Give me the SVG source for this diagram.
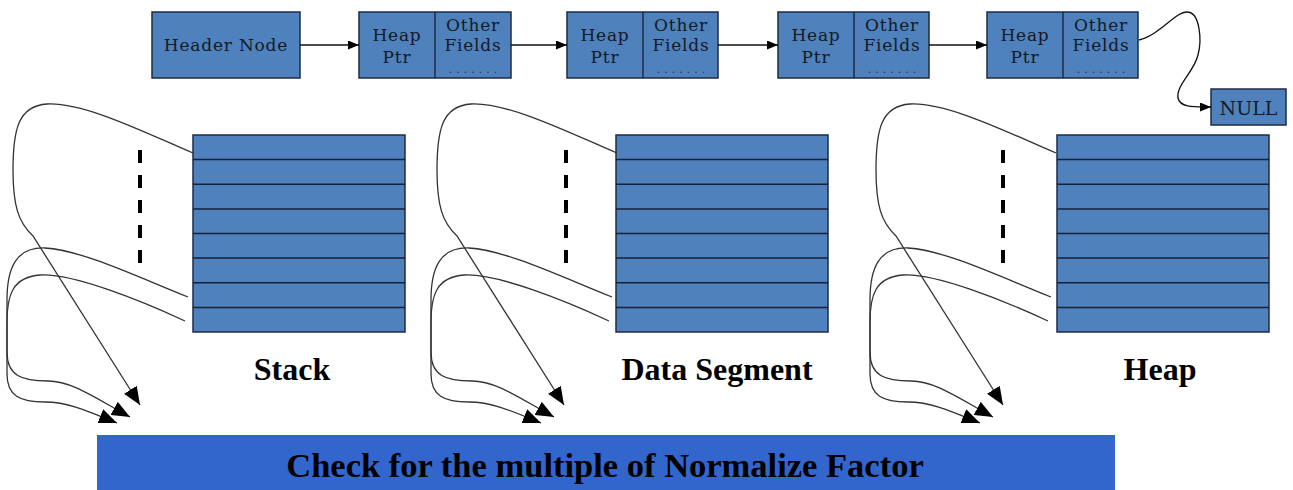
<svg xmlns="http://www.w3.org/2000/svg" width="1293" height="490" viewBox="0 0 1293 490">
  <style>
    .box { fill: #4F81BD; stroke: #1d2b45; stroke-width: 1.5; }
    .div { stroke: #1d2b45; stroke-width: 1.5; }
    .row { stroke: #14213a; stroke-width: 1.5; }
    .nt { font-family: "DejaVu Serif", "Liberation Serif", serif; font-size: 17px; fill: #141a24; text-anchor: middle; letter-spacing: 0.8px; }
    .dots { font-family: "DejaVu Serif", serif; font-size: 11px; fill: #2a3550; text-anchor: middle; letter-spacing: 4px; }
    .lab { font-family: "Liberation Serif", "Times New Roman", serif; font-weight: bold; font-size: 32px; fill: #000; text-anchor: middle; }
    .link { fill: none; stroke: #111; stroke-width: 1.3; }
    .ref { fill: none; stroke: #333; stroke-width: 1.3; }
    .dash { stroke: #000; stroke-width: 4; stroke-dasharray: 13 12; }
  </style>
  <defs>
    <marker id="sm" markerUnits="userSpaceOnUse" markerWidth="11" markerHeight="9" refX="11" refY="4.5" orient="auto">
      <path d="M0,0 L11,4.5 L0,9 z" fill="#000"/>
    </marker>
    <marker id="big" markerUnits="userSpaceOnUse" markerWidth="18" markerHeight="15" refX="18" refY="7.5" orient="auto">
      <path d="M0,0 L18,7.5 L0,15 z" fill="#000"/>
    </marker>
    <!-- one memory block of eight slots -->
    <g id="block">
      <rect class="box" x="193" y="135" width="212" height="197"/>
      <line class="row" x1="193" y1="159.6" x2="405" y2="159.6"/>
      <line class="row" x1="193" y1="184.2" x2="405" y2="184.2"/>
      <line class="row" x1="193" y1="208.9" x2="405" y2="208.9"/>
      <line class="row" x1="193" y1="233.5" x2="405" y2="233.5"/>
      <line class="row" x1="193" y1="258.1" x2="405" y2="258.1"/>
      <line class="row" x1="193" y1="282.8" x2="405" y2="282.8"/>
      <line class="row" x1="193" y1="307.4" x2="405" y2="307.4"/>
    </g>
    <!-- references leaving a block -->
    <g id="refs">
      <path class="ref" d="M193,153 C150,135 85,102 47,104 C18,106 13,130 13,170 C13,205 18,222 33,236 L140,405" marker-end="url(#big)"/>
      <path class="ref" d="M188,297 C140,278 82,250 45,248 C16,247 7,268 7,300 L7,352 C7,376 22,381 48,381 C72,381 95,398 130,417" marker-end="url(#big)"/>
      <path class="ref" d="M185,321 C140,300 72,273 40,275 C12,277 7,296 7,322 L7,374 C7,396 20,402 45,402 C68,402 88,411 117,423" marker-end="url(#big)"/>
    </g>
  </defs>

  <!-- heap list -->
  <g id="header-node">
    <rect class="box" x="152" y="12" width="148" height="66"/>
    <text class="nt" x="226" y="51">Header Node</text>
  </g>
  <g id="heap-node-1">
    <rect class="box" x="359" y="12" width="152" height="66"/>
    <line class="div" x1="435" y1="12" x2="435" y2="78"/>
    <text class="nt" x="397" y="41">Heap</text>
    <text class="nt" x="397" y="63">Ptr</text>
    <text class="nt" x="473" y="31">Other</text>
    <text class="nt" x="473" y="51">Fields</text>
    <text class="dots" x="475" y="73">.......</text>
  </g>
  <g id="heap-node-2">
    <rect class="box" x="567" y="12" width="151" height="66"/>
    <line class="div" x1="643" y1="12" x2="643" y2="78"/>
    <text class="nt" x="605" y="41">Heap</text>
    <text class="nt" x="605" y="63">Ptr</text>
    <text class="nt" x="681" y="31">Other</text>
    <text class="nt" x="681" y="51">Fields</text>
    <text class="dots" x="683" y="73">.......</text>
  </g>
  <g id="heap-node-3">
    <rect class="box" x="778" y="12" width="151" height="66"/>
    <line class="div" x1="854" y1="12" x2="854" y2="78"/>
    <text class="nt" x="816" y="41">Heap</text>
    <text class="nt" x="816" y="63">Ptr</text>
    <text class="nt" x="892" y="31">Other</text>
    <text class="nt" x="892" y="51">Fields</text>
    <text class="dots" x="894" y="73">.......</text>
  </g>
  <g id="heap-node-4">
    <rect class="box" x="987" y="12" width="151" height="66"/>
    <line class="div" x1="1063" y1="12" x2="1063" y2="78"/>
    <text class="nt" x="1025" y="41">Heap</text>
    <text class="nt" x="1025" y="63">Ptr</text>
    <text class="nt" x="1101" y="31">Other</text>
    <text class="nt" x="1101" y="51">Fields</text>
    <text class="dots" x="1103" y="73">.......</text>
  </g>
  <g id="null-node">
    <rect class="box" x="1211" y="89" width="75" height="36"/>
    <text class="nt" x="1248.5" y="115" style="font-size:19px;letter-spacing:0">NULL</text>
  </g>

  <!-- memory areas -->
  <g id="stack">
    <use href="#block"/>
    <line class="dash" x1="140" y1="150" x2="140" y2="263"/>
    <text class="lab" x="292" y="380">Stack</text>
  </g>
  <g id="data-segment">
    <use href="#block" transform="translate(423,0)"/>
    <line class="dash" x1="566" y1="150" x2="566" y2="263"/>
    <text class="lab" x="717" y="380">Data Segment</text>
  </g>
  <g id="heap">
    <use href="#block" transform="translate(864,0)"/>
    <line class="dash" x1="1003" y1="150" x2="1003" y2="263"/>
    <text class="lab" x="1160" y="380">Heap</text>
  </g>

  <g id="normalize-bar">
    <rect x="97" y="435" width="1018" height="55" fill="#3366CC"/>
    <text class="lab" x="605" y="477" style="font-size:34.5px">Check for the multiple of Normalize Factor</text>
  </g>

  <!-- connectors -->
  <g id="connectors">
    <path class="link" d="M300,45 L359,45" marker-end="url(#sm)"/>
    <path class="link" d="M511,45 L567,45" marker-end="url(#sm)"/>
    <path class="link" d="M718,45 L778,45" marker-end="url(#sm)"/>
    <path class="link" d="M929,45 L987,45" marker-end="url(#sm)"/>
    <path class="link" d="M1139,40 C1160,35 1175,12 1187,12 C1200,12 1202,40 1198,55 C1194,72 1176,85 1178,98 C1180,108 1195,107 1211,107" marker-end="url(#sm)"/>
    <use href="#refs"/>
    <use href="#refs" transform="translate(424,0)"/>
    <use href="#refs" transform="translate(863,0)"/>
  </g>
</svg>
